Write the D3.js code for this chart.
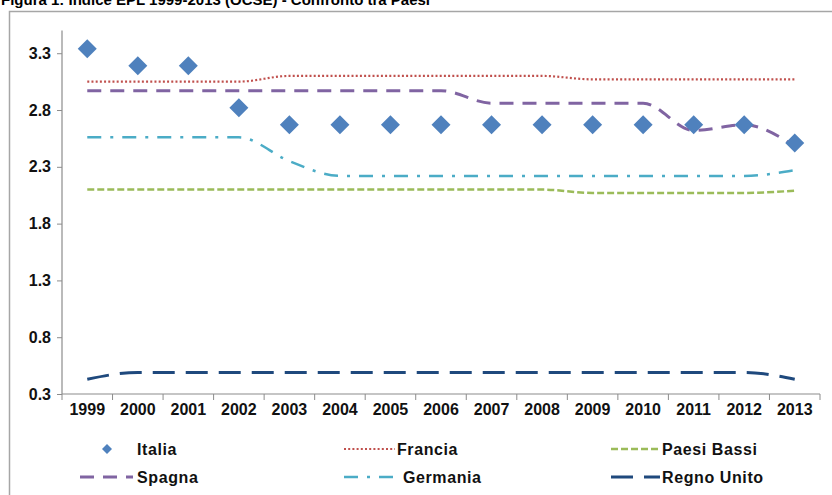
<!DOCTYPE html>
<html><head><meta charset="utf-8">
<script src="https://cdn.jsdelivr.net/npm/d3@7"></script>
<style>body{margin:0;background:#fff}svg{display:block}</style>
</head><body><svg id="c" width="832" height="495"></svg>
<script>
const years = ["1999","2000","2001","2002","2003","2004","2005","2006","2007","2008","2009","2010","2011","2012","2013"];
const italia      = [3.34,3.19,3.19,2.82,2.67,2.67,2.67,2.67,2.67,2.67,2.67,2.67,2.67,2.67,2.51];
const francia     = [3.05,3.05,3.05,3.05,3.10,3.10,3.10,3.10,3.10,3.10,3.07,3.07,3.07,3.07,3.07];
const paesiBassi  = [2.10,2.10,2.10,2.10,2.10,2.10,2.10,2.10,2.10,2.10,2.07,2.07,2.07,2.07,2.09];
const spagna      = [2.97,2.97,2.97,2.97,2.97,2.97,2.97,2.97,2.86,2.86,2.86,2.86,2.62,2.67,2.48];
const germania    = [2.56,2.56,2.56,2.56,2.35,2.22,2.22,2.22,2.22,2.22,2.22,2.22,2.22,2.22,2.27];
const regnoUnito  = [0.43,0.49,0.49,0.49,0.49,0.49,0.49,0.49,0.49,0.49,0.49,0.49,0.49,0.49,0.43];
const yTicks = [0.3,0.8,1.3,1.8,2.3,2.8,3.3];
const title = "Figura 1: Indice EPL 1999-2013 (OCSE) - Confronto tra Paesi";

const svg = d3.select("#c");
const font = "'Liberation Sans', Arial, sans-serif";

// title (cropped at top, as in the source image)
svg.append("text").attr("x",1).attr("y",5).attr("font-family",font).attr("font-weight","bold")
  .attr("font-size",15).attr("fill","#000").text(title);
// frame
svg.append("path").attr("d","M9.5,495 V11.5 H832").attr("fill","none").attr("stroke","#a6a6a6").attr("stroke-width",1.5);

const x = d3.scaleBand().domain(years).range([62,820]);
const y = d3.scaleLinear().domain([0.3,3.5]).range([394,30.5]);
const cx = d => x(d) + x.bandwidth()/2;

// axes
const yAxis = d3.axisLeft(y).tickValues(yTicks).tickFormat(d3.format(".1f")).tickSize(5).tickPadding(6);
const gy = svg.append("g").attr("transform","translate(62,0)").call(yAxis);
const xAxis = d3.axisBottom(x).tickSize(0).tickPadding(10);
const gx = svg.append("g").attr("transform","translate(0,394)").call(xAxis);
const bounds = years.map(d=>x(d)).concat([820]);
gx.selectAll(".sep").data(bounds).enter().append("line").attr("class","sep")
  .attr("x1",d=>d).attr("x2",d=>d).attr("y1",0).attr("y2",6).attr("stroke","#8c8c8c");
[gx,gy].forEach(g=>{
  g.select(".domain").attr("stroke","#8c8c8c").attr("stroke-width",1.2);
  g.selectAll(".tick line").attr("stroke","#8c8c8c");
  g.selectAll("text").attr("font-family",font).attr("font-weight","bold").attr("font-size",16).attr("fill","#111");
});
gx.select(".domain").attr("d","M62,0H820");
gy.select(".domain").attr("d","M0,30.5V394");

const line = d3.line().x((d,i)=>cx(years[i])).y(d=>y(d)).curve(d3.curveMonotoneX);
const series = [
  {name:"Paesi Bassi", data:paesiBassi, color:"#9bbb59", dash:"7,3", w:2.5},
  {name:"Germania", data:germania, color:"#4bacc6", dash:"14,9,3,9", w:2.5},
  {name:"Francia", data:francia, color:"#c0504d", dash:"2,2.2", w:2.2},
  {name:"Spagna", data:spagna, color:"#8064a2", dash:"14,9", w:3},
  {name:"Regno Unito", data:regnoUnito, color:"#1f497d", dash:"22,11", w:3},
];
series.forEach(s=>{
  svg.append("path").attr("d",line(s.data)).attr("fill","none").attr("stroke",s.color)
    .attr("stroke-width",s.w).attr("stroke-dasharray",s.dash);
});
const diamond = (r)=>`M0,${-r}L${r},0L0,${r}L${-r},0Z`;
svg.selectAll(".it").data(italia).enter().append("path")
  .attr("d",diamond(9.5)).attr("transform",(d,i)=>`translate(${cx(years[i])},${y(d)})`)
  .attr("fill","#4f81bd");

// legend
const lg = svg.append("g").attr("font-family",font).attr("font-weight","bold").attr("font-size",16).attr("fill","#111");
const legendItems = [
  {name:"Italia", marker:true, lx:107, tx:137, y:449},
  {name:"Francia", s:series[2], lx0:344, lx1:395, tx:397, y:449},
  {name:"Paesi Bassi", s:series[0], lx0:611, lx1:660, tx:662, y:449},
  {name:"Spagna", s:series[3], lx0:80, lx1:133, tx:137, y:477},
  {name:"Germania", s:series[1], lx0:344, lx1:397, tx:403, y:477},
  {name:"Regno Unito", s:series[4], lx0:611, lx1:660, tx:662, y:477},
];
legendItems.forEach(it=>{
  if(it.marker){
    lg.append("path").attr("d",diamond(5)).attr("transform",`translate(${it.lx},${it.y})`).attr("fill","#4f81bd");
  } else {
    lg.append("line").attr("x1",it.lx0).attr("x2",it.lx1).attr("y1",it.y).attr("y2",it.y)
      .attr("stroke",it.s.color).attr("stroke-width",it.s.w).attr("stroke-dasharray",it.s.dash);
  }
  lg.append("text").attr("x",it.tx).attr("y",it.y).attr("dy","0.35em").attr("letter-spacing",0.6).text(it.name);
});
</script></body></html>
